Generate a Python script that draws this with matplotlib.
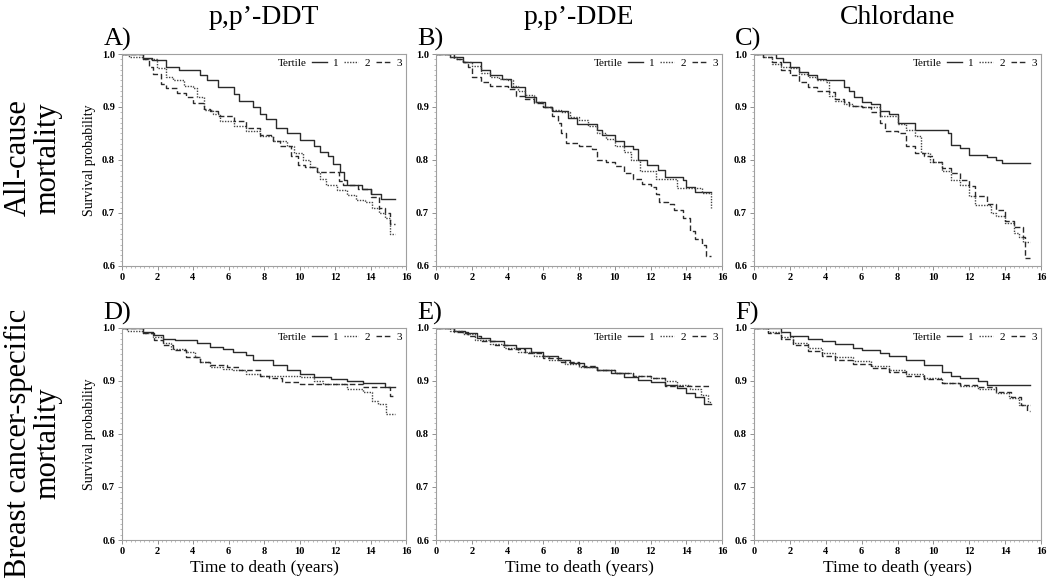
import numpy as np
import matplotlib
matplotlib.use("Agg")
import matplotlib.pyplot as plt
from matplotlib.lines import Line2D
from matplotlib.ticker import MultipleLocator

plt.rcParams['font.family'] = ['Liberation Serif', 'DejaVu Serif']

# column / row labels
compounds = ["p,p\u2019-DDT", "p,p\u2019-DDE", "Chlordane"]
outcomes = ["All-cause\nmortality", "Breast cancer-specific\nmortality"]
panel_tags = ["A)", "B)", "C)", "D)", "E)", "F)"]
tertiles = ["1", "2", "3"]

# Kaplan-Meier curves: (times, survival) per tertile
# A) p,p'-DDT, all-cause
A1_t = [0, 1.2, 1.7, 2.5, 3.2, 4.4, 4.8, 5.4, 6.3, 6.6, 7.4, 7.8, 8.1, 8.7, 9.3, 10.0, 10.8, 11.15, 11.6, 11.9, 12.3, 12.5, 12.65, 13.5, 14.0, 14.6, 15.4]
A1_s = [1.0, 0.992, 0.989, 0.975, 0.969, 0.96, 0.95, 0.937, 0.925, 0.912, 0.90, 0.887, 0.877, 0.86, 0.85, 0.838, 0.826, 0.816, 0.807, 0.793, 0.778, 0.763, 0.753, 0.745, 0.735, 0.726, 0.726]
A2_t = [0, 0.4, 1.2, 1.95, 2.5, 2.9, 3.5, 4.0, 4.2, 4.6, 5.15, 5.5, 6.3, 7.0, 7.8, 8.5, 9.3, 9.7, 10.2, 10.6, 11.0, 11.15, 11.5, 12.1, 12.65, 13.2, 13.7, 14.1, 14.5, 14.8, 15.1, 15.4]
A2_s = [1.0, 0.995, 0.99, 0.973, 0.956, 0.95, 0.94, 0.935, 0.918, 0.895, 0.887, 0.874, 0.864, 0.855, 0.845, 0.835, 0.826, 0.813, 0.80, 0.787, 0.778, 0.765, 0.753, 0.743, 0.734, 0.724, 0.72, 0.71, 0.70, 0.69, 0.66, 0.66]
A3_t = [0, 1.2, 1.5, 1.76, 2.2, 2.5, 3.1, 3.6, 4.0, 4.6, 4.96, 5.4, 6.3, 7.0, 7.8, 8.5, 8.9, 9.5, 9.9, 10.3, 11.0, 12.2, 12.45, 13.3, 14.0, 14.5, 14.8, 15.1, 15.4]
A3_s = [1.0, 0.99, 0.975, 0.963, 0.944, 0.935, 0.927, 0.918, 0.908, 0.897, 0.893, 0.883, 0.874, 0.86, 0.848, 0.835, 0.826, 0.807, 0.79, 0.787, 0.778, 0.76, 0.753, 0.745, 0.73, 0.71, 0.70, 0.68, 0.68]

# B) p,p'-DDE, all-cause
B1_t = [0, 0.8, 1.5, 2.5, 3.0, 3.7, 4.2, 5.0, 5.6, 6.1, 6.5, 7.4, 7.9, 9.0, 9.3, 10.0, 10.5, 11.0, 11.3, 11.8, 12.4, 12.8, 13.8, 14.0, 14.5, 15.4]
B1_s = [1.0, 0.995, 0.985, 0.97, 0.96, 0.953, 0.937, 0.918, 0.91, 0.90, 0.893, 0.88, 0.867, 0.857, 0.847, 0.835, 0.826, 0.82, 0.80, 0.79, 0.781, 0.768, 0.762, 0.749, 0.74, 0.74]
B2_t = [0, 0.8, 1.2, 1.5, 2.0, 2.5, 3.0, 3.5, 4.0, 4.3, 4.6, 5.0, 5.5, 6.0, 6.5, 7.0, 7.5, 8.0, 8.5, 9.0, 9.5, 10.0, 10.5, 10.9, 11.4, 12.3, 13.5, 14.9, 15.4]
B2_s = [1.0, 0.995, 0.99, 0.985, 0.978, 0.965, 0.957, 0.953, 0.95, 0.94, 0.93, 0.922, 0.91, 0.90, 0.895, 0.89, 0.882, 0.875, 0.865, 0.851, 0.84, 0.826, 0.815, 0.80, 0.78, 0.765, 0.747, 0.737, 0.71]
B3_t = [0, 1.0, 1.5, 1.8, 2.0, 2.5, 3.0, 4.0, 4.5, 5.0, 5.5, 6.0, 6.5, 6.8, 7.0, 7.3, 8.0, 8.7, 9.0, 9.5, 10.0, 10.5, 11.0, 11.5, 12.0, 12.3, 12.5, 13.0, 13.3, 13.8, 14.2, 14.5, 14.9, 15.1, 15.4]
B3_s = [1.0, 0.99, 0.985, 0.975, 0.957, 0.947, 0.94, 0.934, 0.92, 0.915, 0.908, 0.90, 0.883, 0.87, 0.85, 0.832, 0.826, 0.82, 0.80, 0.797, 0.788, 0.775, 0.765, 0.755, 0.749, 0.736, 0.72, 0.717, 0.705, 0.69, 0.666, 0.65, 0.64, 0.618, 0.618]

# C) Chlordane, all-cause
C1_t = [0, 1.2, 1.6, 2.0, 2.5, 3.0, 3.5, 4.0, 5.0, 5.3, 5.6, 6.0, 6.5, 7.0, 7.5, 8.0, 9.0, 10.8, 11.0, 11.5, 12.0, 13.0, 13.5, 13.8, 15.4]
C1_s = [1.0, 0.992, 0.985, 0.976, 0.966, 0.96, 0.953, 0.95, 0.937, 0.93, 0.918, 0.909, 0.905, 0.893, 0.886, 0.87, 0.856, 0.85, 0.829, 0.823, 0.81, 0.805, 0.80, 0.794, 0.794]
C2_t = [0, 0.5, 1.0, 1.5, 2.0, 2.5, 3.0, 3.5, 4.0, 4.2, 4.5, 5.0, 5.5, 6.0, 7.0, 8.0, 8.5, 9.0, 9.3, 9.8, 10.5, 11.0, 11.5, 12.0, 12.3, 13.2, 13.5, 14.0, 14.5, 14.8, 15.0, 15.4]
C2_s = [1.0, 0.995, 0.982, 0.975, 0.973, 0.963, 0.957, 0.95, 0.947, 0.92, 0.912, 0.905, 0.902, 0.90, 0.883, 0.867, 0.857, 0.845, 0.813, 0.797, 0.78, 0.762, 0.752, 0.733, 0.715, 0.70, 0.695, 0.682, 0.663, 0.655, 0.645, 0.645]
C3_t = [0, 0.5, 1.0, 1.5, 2.0, 2.5, 3.0, 3.5, 4.2, 4.5, 5.0, 5.3, 6.0, 6.5, 7.0, 7.3, 8.0, 8.5, 9.0, 9.5, 10.0, 10.5, 11.0, 11.5, 12.0, 12.3, 13.0, 13.5, 14.0, 14.5, 15.0, 15.1, 15.4]
C3_s = [1.0, 0.995, 0.985, 0.97, 0.96, 0.947, 0.937, 0.93, 0.928, 0.915, 0.909, 0.902, 0.90, 0.89, 0.87, 0.855, 0.851, 0.826, 0.813, 0.807, 0.797, 0.784, 0.775, 0.762, 0.75, 0.733, 0.717, 0.705, 0.685, 0.673, 0.655, 0.615, 0.615]

# D) p,p'-DDT, breast cancer-specific
D1_t = [0, 1.2, 1.76, 2.3, 3.0, 4.2, 4.96, 5.7, 6.26, 7.0, 7.4, 8.5, 9.3, 10.0, 10.8, 11.8, 12.7, 13.6, 14.8, 15.4]
D1_s = [1.0, 0.993, 0.987, 0.98, 0.977, 0.971, 0.964, 0.961, 0.955, 0.949, 0.939, 0.93, 0.92, 0.914, 0.907, 0.903, 0.90, 0.897, 0.888, 0.888]
D2_t = [0, 0.3, 1.2, 1.76, 2.3, 2.75, 3.6, 4.1, 4.4, 4.96, 5.7, 6.26, 7.0, 7.8, 10.0, 10.8, 11.3, 12.7, 13.6, 14.1, 14.4, 14.9, 15.4]
D2_s = [1.0, 0.995, 0.99, 0.983, 0.971, 0.961, 0.955, 0.945, 0.936, 0.926, 0.923, 0.92, 0.914, 0.91, 0.907, 0.90, 0.895, 0.885, 0.879, 0.863, 0.857, 0.838, 0.838]
D3_t = [0, 1.2, 1.8, 2.3, 2.9, 3.6, 4.4, 4.96, 5.9, 6.6, 7.8, 8.3, 9.0, 10.0, 13.6, 15.1, 15.4]
D3_s = [1.0, 0.99, 0.977, 0.968, 0.958, 0.945, 0.936, 0.93, 0.926, 0.92, 0.91, 0.905, 0.898, 0.895, 0.888, 0.872, 0.872]

# E) p,p'-DDE, breast cancer-specific
E1_t = [0, 1.0, 1.6, 2.3, 3.0, 3.8, 4.5, 5.3, 6.0, 6.8, 7.5, 8.3, 9.0, 9.8, 10.5, 11.3, 12.0, 12.8, 13.5, 14.0, 14.5, 15.0, 15.4]
E1_s = [1.0, 0.995, 0.99, 0.982, 0.975, 0.968, 0.962, 0.955, 0.948, 0.94, 0.934, 0.927, 0.921, 0.915, 0.908, 0.902, 0.898, 0.893, 0.886, 0.878, 0.87, 0.857, 0.857]
E2_t = [0, 0.8, 1.5, 2.2, 3.0, 3.8, 4.6, 5.5, 6.3, 7.2, 8.0, 9.0, 10.0, 11.0, 12.0, 12.8, 13.5, 14.2, 14.8, 15.2, 15.4]
E2_s = [1.0, 0.995, 0.988, 0.978, 0.97, 0.962, 0.955, 0.947, 0.94, 0.932, 0.926, 0.92, 0.915, 0.91, 0.905, 0.90, 0.893, 0.885, 0.873, 0.86, 0.86]
E3_t = [0, 1.0, 1.8, 2.5, 3.3, 4.0, 5.0, 6.0, 7.0, 8.0, 9.0, 10.0, 11.0, 12.0, 12.8, 15.4]
E3_s = [1.0, 0.993, 0.985, 0.975, 0.967, 0.96, 0.952, 0.944, 0.936, 0.928, 0.921, 0.915, 0.91, 0.905, 0.89, 0.89]

# F) Chlordane, breast cancer-specific
F1_t = [0, 1.5, 2.0, 3.0, 3.8, 4.5, 5.5, 6.0, 7.0, 7.5, 8.5, 9.5, 10.5, 11.0, 11.5, 12.5, 13.0, 15.4]
F1_s = [1.0, 0.993, 0.985, 0.98, 0.975, 0.97, 0.963, 0.958, 0.952, 0.947, 0.94, 0.93, 0.917, 0.91, 0.905, 0.90, 0.893, 0.893]
F2_t = [0, 0.8, 1.5, 2.2, 3.0, 3.8, 4.5, 5.5, 6.5, 7.5, 8.5, 9.5, 10.5, 11.5, 12.5, 13.5, 14.2, 14.8, 15.4]
F2_s = [1.0, 0.993, 0.983, 0.972, 0.962, 0.953, 0.945, 0.937, 0.928, 0.92, 0.913, 0.905, 0.897, 0.89, 0.885, 0.878, 0.868, 0.855, 0.855]
F3_t = [0, 0.8, 1.5, 2.2, 3.0, 3.8, 4.5, 5.5, 6.5, 7.5, 8.5, 9.5, 10.5, 11.5, 12.5, 13.5, 14.3, 14.9, 15.2, 15.4]
F3_s = [1.0, 0.99, 0.98, 0.968, 0.957, 0.948, 0.94, 0.932, 0.925, 0.917, 0.91, 0.903, 0.897, 0.892, 0.888, 0.88, 0.87, 0.855, 0.843, 0.843]

curves = [
    [(A1_t, A1_s), (A2_t, A2_s), (A3_t, A3_s)],
    [(B1_t, B1_s), (B2_t, B2_s), (B3_t, B3_s)],
    [(C1_t, C1_s), (C2_t, C2_s), (C3_t, C3_s)],
    [(D1_t, D1_s), (D2_t, D2_s), (D3_t, D3_s)],
    [(E1_t, E1_s), (E2_t, E2_s), (E3_t, E3_s)],
    [(F1_t, F1_s), (F2_t, F2_s), (F3_t, F3_s)],
]

styles = [dict(ls='-', color='#2a2a2a', lw=1.0),
          dict(ls=(0, (1, 1)), color='#444444', lw=1.0),
          dict(ls=(0, (4, 2)), color='#2a2a2a', lw=1.0)]

W, H = 1050, 584
fig = plt.figure(figsize=(W / 100, H / 100), dpi=100)

# axes boxes in pixels: left, right for columns; top, bottom for rows
col_px = [(122, 406), (436, 722), (754, 1041)]
row_px = [(54, 266), (328, 540)]

axes = []
for r, (top, bot) in enumerate(row_px):
    for c, (left, right) in enumerate(col_px):
        ax = fig.add_axes([left / W, 1 - bot / H, (right - left) / W, (bot - top) / H])
        axes.append(ax)

for i, ax in enumerate(axes):
    handles = []
    for (t, s), st in zip(curves[i], styles):
        h, = ax.step(t, s, where='post', **st)
        handles.append(h)
    ax.set_xlim(0, 16)
    ax.set_ylim(0.6, 1.0)
    ax.xaxis.set_major_locator(MultipleLocator(2))
    ax.xaxis.set_minor_locator(MultipleLocator(0.25))
    ax.yaxis.set_major_locator(MultipleLocator(0.1))
    ax.yaxis.set_minor_locator(MultipleLocator(0.01))
    ax.yaxis.set_major_formatter(matplotlib.ticker.FormatStrFormatter('%.1f'))
    for sp in ax.spines.values():
        sp.set_color('#a0a0a0')
        sp.set_linewidth(0.8)
    ax.tick_params(which='major', length=3, width=0.6, color='#808080',
                   labelsize=7.5, pad=2)
    ax.tick_params(which='minor', length=1.5, width=0.5, color='#a0a0a0')
    for lab in ax.get_xticklabels() + ax.get_yticklabels():
        lab.set_fontweight('bold')

    blank = Line2D([], [], ls='none')
    ax.legend([blank] + handles, ["Tertile"] + tertiles, ncol=4, loc='upper right',
              frameon=False, fontsize=8, handlelength=1.3, handletextpad=0.6,
              columnspacing=0.45, borderaxespad=0.1, borderpad=0.25)

    ax.text(-0.065, 1.04, panel_tags[i], transform=ax.transAxes, fontsize=19,
            ha='left', va='baseline')

    c = i % 3
    if c == 0:
        ax.set_ylabel("Survival probability", fontsize=10, labelpad=4)
    if i >= 3:
        ax.set_xlabel("Time to death (years)", fontsize=12.5, labelpad=3)
    if i < 3:
        ax.text(0.5, 1.115, compounds[c], transform=ax.transAxes, fontsize=20,
                ha='center', va='bottom')

# row labels
fig.text(33 / W, 1 - 158 / H, outcomes[0], rotation=90, fontsize=22,
         ha='center', va='center', linespacing=1.0)
fig.text(33 / W, 1 - 443 / H, outcomes[1], rotation=90, fontsize=22,
         ha='center', va='center', linespacing=1.0)

fig.savefig("out.png", dpi=100)
